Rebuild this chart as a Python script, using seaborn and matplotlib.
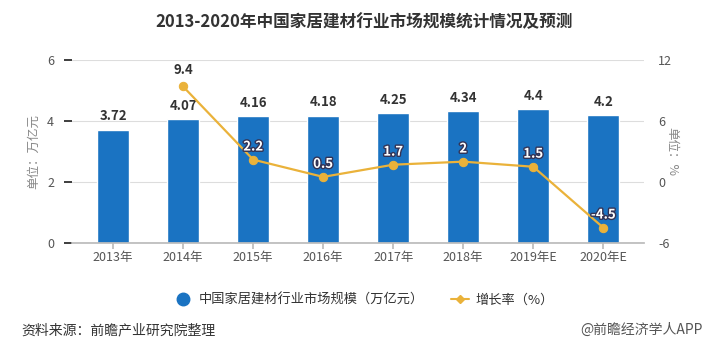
import matplotlib
matplotlib.use('Agg')
import matplotlib.pyplot as plt
import matplotlib.patheffects as pe
import seaborn as sns
import pandas as pd

years = ['2013年', '2014年', '2015年', '2016年', '2017年', '2018年', '2019年E', '2020年E']
market_size = [3.72, 4.07, 4.16, 4.18, 4.25, 4.34, 4.4, 4.2]
growth_years = years[1:]
growth_rate = [9.4, 2.2, 0.5, 1.7, 2, 1.5, -4.5]

sns.set_theme(style='white')
plt.rcParams['font.family'] = ['Noto Sans CJK SC', 'DejaVu Sans']
plt.rcParams['axes.unicode_minus'] = False

bar_color = '#1a73c2'
line_color = '#eab23a'
tick_color = '#555555'

df = pd.DataFrame({'year': years, 'size': market_size})
gdf = pd.DataFrame({'year': growth_years, 'rate': growth_rate})
gdf['pos'] = [years.index(y) for y in growth_years]

fig = plt.figure(figsize=(7.28, 3.62), dpi=100)
ax = fig.add_axes([0.099, 0.329, 0.786, 0.505])

# bars - market size
sns.barplot(data=df, x='year', y='size', color=bar_color, width=0.46,
            saturation=1, ax=ax, zorder=2)
ax.set_xlim(-0.585, 7.585)
ax.set_ylim(0, 6)
ax.set_yticks([0, 2, 4, 6])
ax.grid(axis='y', color='#dddddd', linewidth=0.8, zorder=0)
ax.set_axisbelow(True)
for s in ['top', 'right', 'left']:
    ax.spines[s].set_visible(False)
ax.spines['bottom'].set_color('#bbbbbb')
ax.tick_params(axis='x', bottom=True, length=4, color='#bbbbbb', labelsize=9,
               labelcolor=tick_color, pad=2)
ax.tick_params(axis='y', left=False, labelsize=9, labelcolor=tick_color, pad=7)
ax.set_xlabel('')
ax.set_ylabel('单位：万亿元', fontsize=9, color='#888888')
ax.yaxis.set_label_coords(-0.056, 0.5)

for i, v in enumerate(market_size):
    ax.text(i, v + 0.2, f'{v:g}', ha='center', va='bottom', fontsize=9.5,
            fontweight='bold', color='#333333', zorder=5)

# line - growth rate
ax2 = ax.twinx()
sns.lineplot(data=gdf, x='pos', y='rate', color=line_color, linewidth=1.6,
             marker='o', markersize=6, markeredgecolor=line_color, ax=ax2, zorder=4)
ax2.set_ylim(-6, 12)
ax2.set_yticks([-6, 0, 6, 12])
for s in ['top', 'right', 'left', 'bottom']:
    ax2.spines[s].set_visible(False)
ax2.tick_params(axis='y', right=False, labelsize=9, labelcolor=tick_color, pad=4)
ax2.set_xlabel('')
ax2.set_ylabel('单位：%', fontsize=9, color='#888888', rotation=270)
ax2.yaxis.set_label_coords(1.06, 0.5)

for p, v in zip(gdf['pos'], gdf['rate']):
    if v > 5:
        ax2.text(p, v + 0.9, f'{v:g}', ha='center', va='bottom', fontsize=9.5,
                 fontweight='bold', color='#333333', zorder=6)
    else:
        t = ax2.text(p, v + 0.6, f'{v:g}', ha='center', va='bottom', fontsize=9.5,
                     fontweight='bold', color='white', zorder=6)
        t.set_path_effects([pe.withStroke(linewidth=2, foreground='#333355')])

fig.text(0.5, 0.94, '2013-2020年中国家居建材行业市场规模统计情况及预测',
         ha='center', va='center', fontsize=12, fontweight='bold', color='#333333')

# legend
handles = [
    plt.Line2D([], [], marker='o', linestyle='none', markersize=9,
               color=bar_color),
    plt.Line2D([], [], marker='D', linestyle='-', markersize=4.5,
               color=line_color, linewidth=1.5),
]
fig.legend(handles, ['中国家居建材行业市场规模（万亿元）', '增长率（%）'],
           loc='center', bbox_to_anchor=(0.5, 0.172), ncol=2, frameon=False,
           fontsize=9.5, handlelength=1.4, columnspacing=2, handletextpad=0.5,
           labelcolor='#333333')

fig.text(0.03, 0.088, '资料来源：前瞻产业研究院整理', ha='left', va='center',
         fontsize=10, color='#333333')
fig.text(0.965, 0.088, '@前瞻经济学人APP', ha='right', va='center',
         fontsize=10, color='#555555')

fig.savefig('out.png', dpi=100)
